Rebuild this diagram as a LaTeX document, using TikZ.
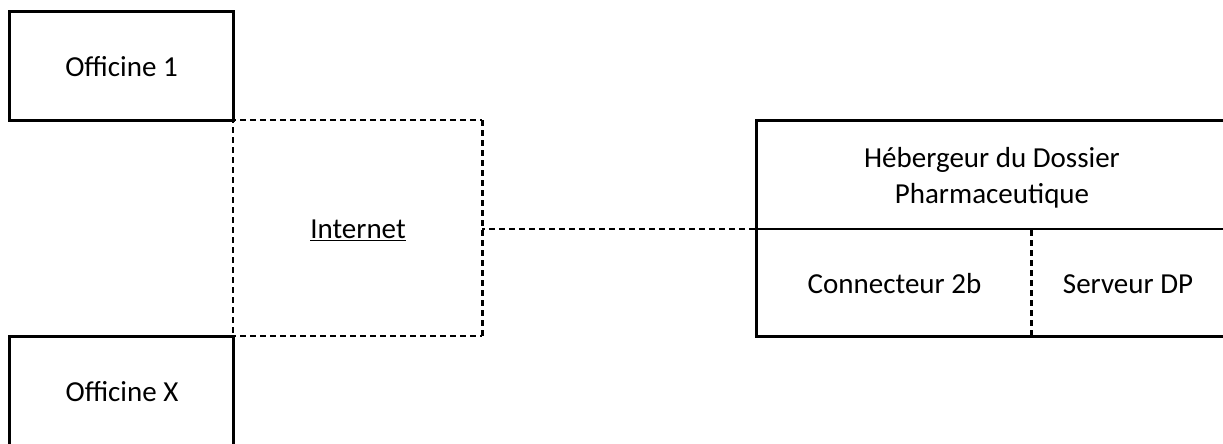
\documentclass[tikz,border=0pt]{standalone}
\usepackage{fontspec}
\setmainfont{Carlito}
\tikzset{
  x=1pt,y=-1pt,
  lbl/.style={inner sep=0pt,outer sep=0pt,align=center,font=\fontsize{29}{36}\selectfont,text=black},
  heavy/.style={draw=black,line width=3pt},
  solidthin/.style={draw=black,line width=2pt},
  dashthin/.style={draw=black,line width=2pt,dash pattern=on 6pt off 4pt,dash phase=3pt},
  dashthick/.style={draw=black,line width=3pt,dash pattern=on 6pt off 4pt},
}
\begin{document}
\begin{tikzpicture}
\useasboundingbox (0,0) rectangle (1223,444);
\clip (0,0) rectangle (1223,444);
\coordinate (itl) at (233,120);
\coordinate (itr) at (482,120);
\coordinate (ibl) at (233,336);
\coordinate (ibr) at (482,336);
\coordinate (ie) at (482,229);
\coordinate (ctop) at (1031,230);
\coordinate (cbot) at (1031,335);
\coordinate (hw) at (756,229);
\coordinate (he) at (1230,229);
\node[lbl] (internet) at (358,230) {\underline{Internet}};
\node[lbl] (labo1) at (121.5,67) {Officine 1};
\node[lbl] (labox) at (122,392) {Officine X};
\node[lbl] (labh) at (992,178) {Hébergeur du Dossier\\Pharmaceutique};
\node[lbl] (labc) at (894.5,284) {Connecteur 2b};
\node[lbl] (labs) at (1128,284) {Serveur DP};
\draw[dashthin] (itl) -- (itr);
\draw[dashthin] (itl) -- (ibl);
\draw[dashthin] (ibl) -- (ibr);
\draw[dashthick] (itr) -- (ibr);
\draw[dashthin] (ie) -- (hw);
\draw[heavy] (9.5,11.5) rectangle (233,120);
\draw[heavy] (9.5,460) -- (9.5,336.5) -- (233,336.5) -- (233,460);
\draw[heavy] (1230,120.5) -- (756,120.5) -- (756,336) -- (1230,336);
\draw[solidthin] (hw) -- (he);
\draw[dashthick] (ctop) -- (cbot);
\end{tikzpicture}
\end{document}
